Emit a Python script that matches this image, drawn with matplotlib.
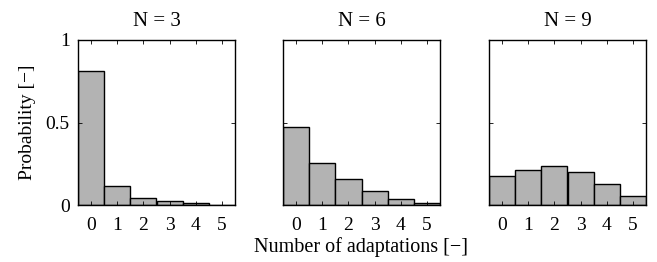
import numpy as np
import matplotlib
matplotlib.use("Agg")
import matplotlib.pyplot as plt

plt.rcParams["font.family"] = ["Liberation Serif", "DejaVu Serif"]

# ── DATA ──────────────────────────────────────────────────────
adaptations = [0, 1, 2, 3, 4, 5]
titles = ["N = 3", "N = 6", "N = 9"]
prob_n3 = [0.812, 0.117, 0.044, 0.022, 0.010, 0.002]
prob_n6 = [0.470, 0.256, 0.156, 0.083, 0.036, 0.010]
prob_n9 = [0.178, 0.210, 0.234, 0.200, 0.127, 0.053]
y_ticks = [0, 0.5, 1]
y_tick_labels = ["0", "0.5", "1"]

BAR_GRAY = "#b3b3b3"

fig = plt.figure(figsize=(6.57, 2.62), dpi=100)
W, H = 657, 262
lefts = [78, 283, 489]
width_px = 157
bottom_px, top_px = 205, 40

axes = []
for left in lefts:
    ax = fig.add_axes([left / W, 1 - bottom_px / H, width_px / W, (bottom_px - top_px) / H])
    axes.append(ax)

for ax, title, vals in zip(axes, titles, [prob_n3, prob_n6, prob_n9]):
    ax.bar(adaptations, vals, width=1.0, color=BAR_GRAY, edgecolor="black", linewidth=1.0)
    ax.set_xlim(-0.5, 5.5)
    ax.set_ylim(0, 1)
    ax.set_xticks(adaptations)
    ax.set_xticklabels([str(a) for a in adaptations], fontsize=14)
    ax.set_yticks(y_ticks)
    ax.tick_params(direction="in", top=True, right=True, length=3, width=0.6, pad=9)
    ax.set_title(title, fontsize=15, pad=10)
    for s in ax.spines.values():
        s.set_linewidth(1.0)

axes[0].set_yticklabels(y_tick_labels, fontsize=14)
axes[0].tick_params(axis="y", pad=6)
axes[0].set_ylabel("Probability [\u2212]", fontsize=14, labelpad=7)
for ax in axes[1:]:
    ax.set_yticklabels([])
axes[1].set_xlabel("Number of adaptations [\u2212]", fontsize=14.5, labelpad=2)

plt.savefig("out.png", dpi=100, facecolor="white")
plt.close()
